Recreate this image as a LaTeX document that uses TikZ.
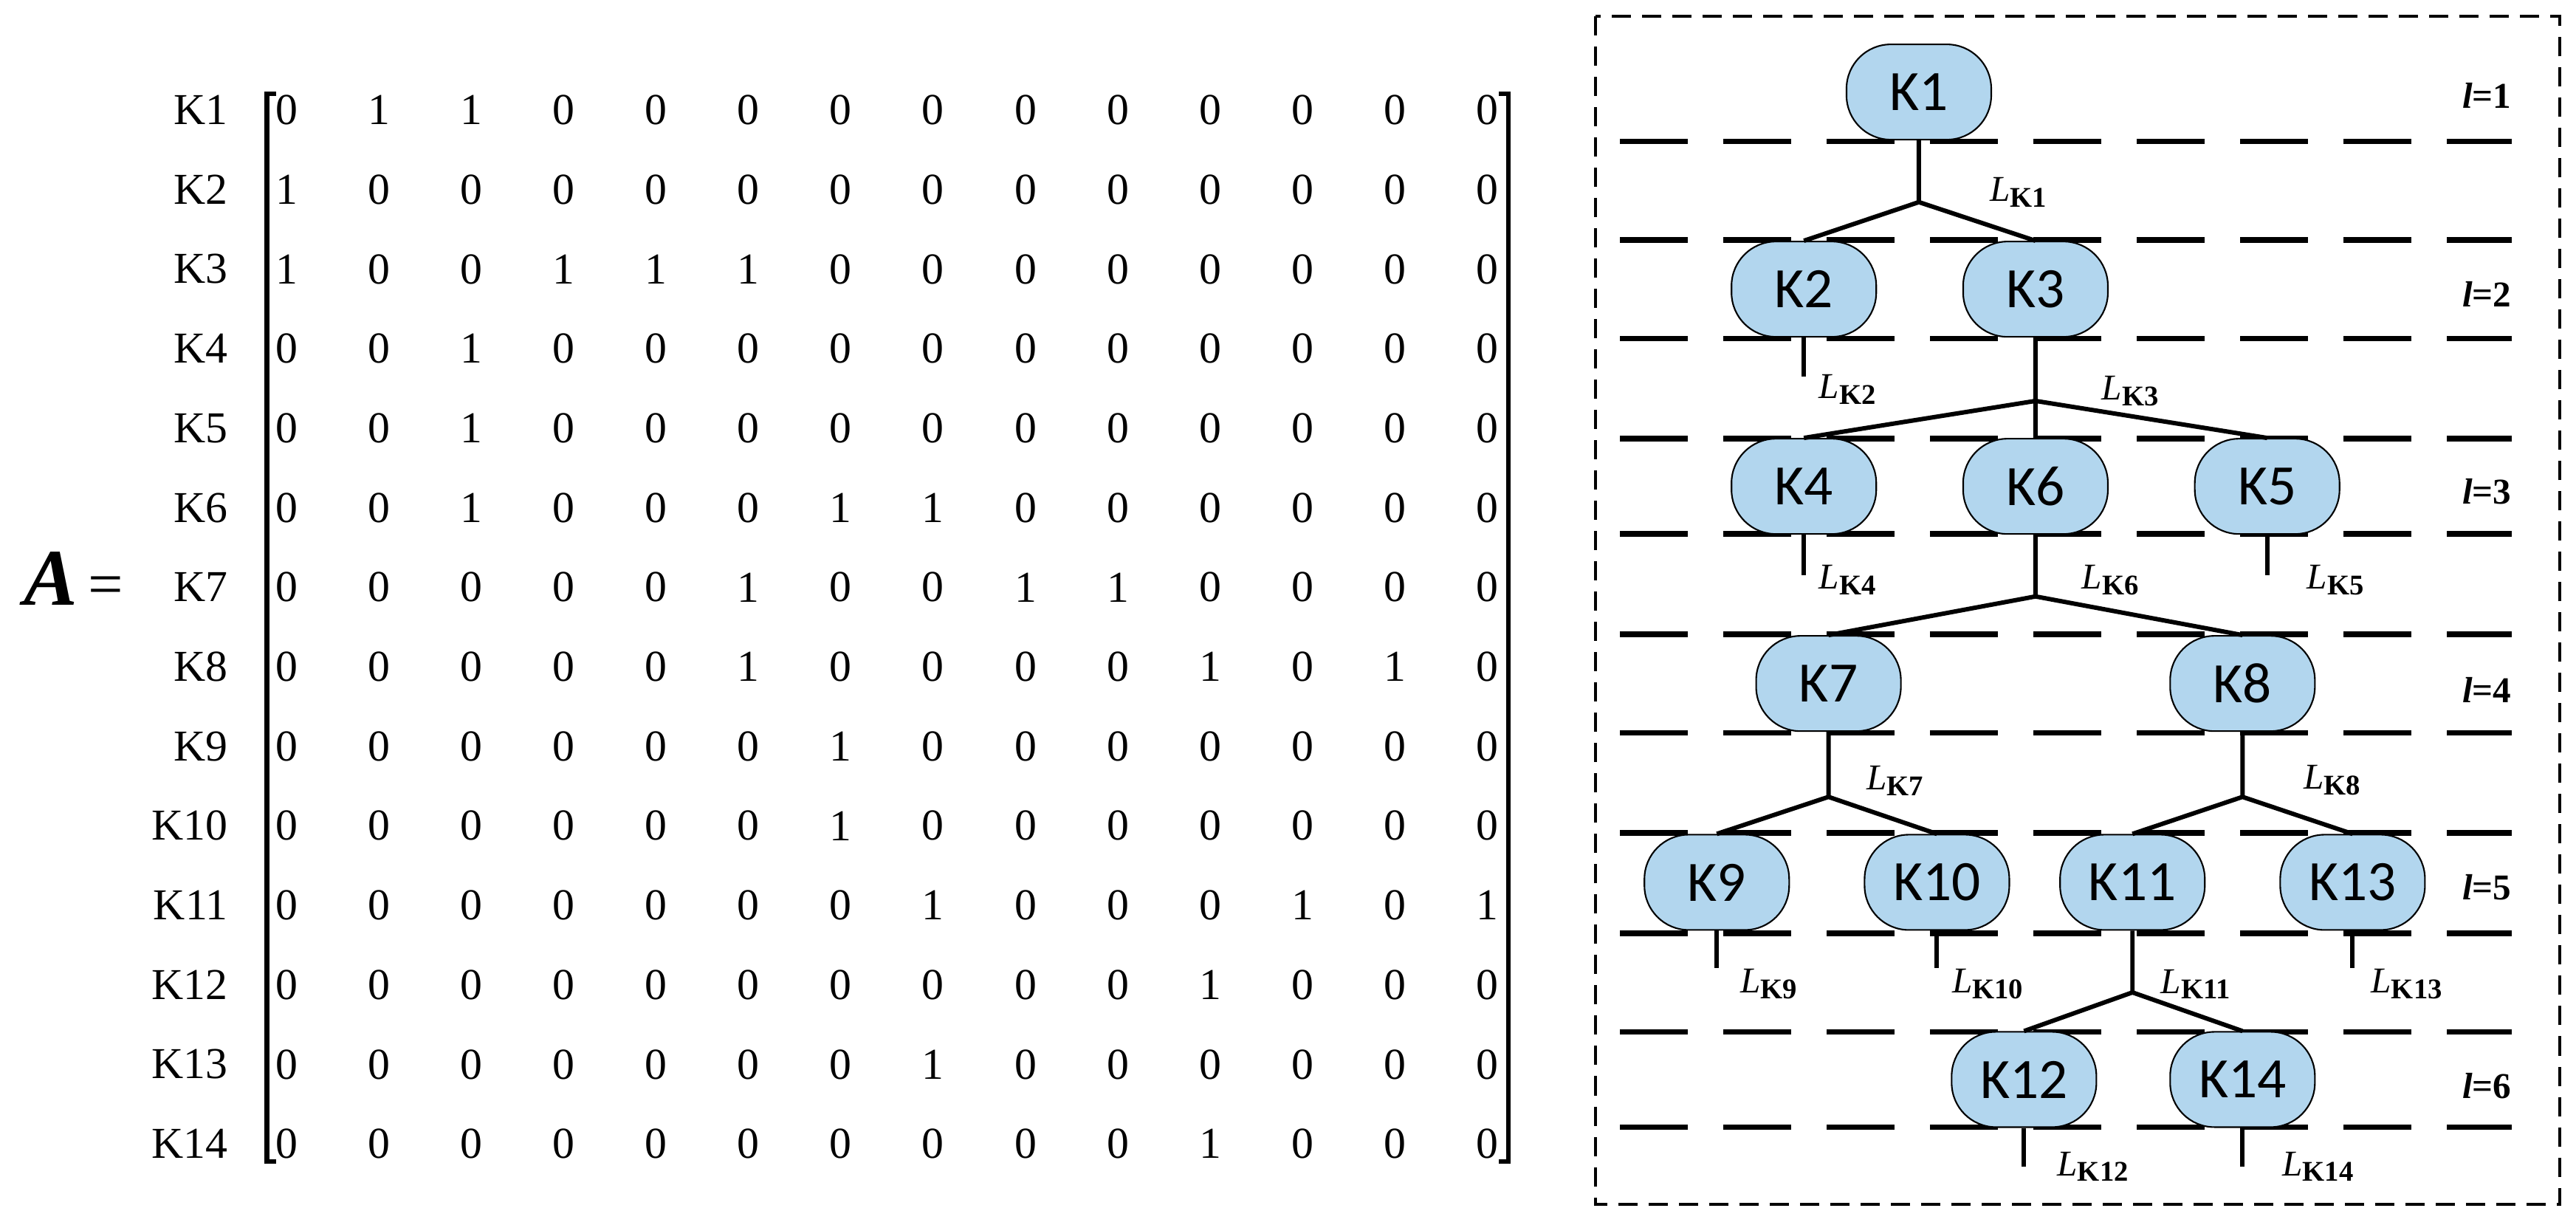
\documentclass[tikz,border=0pt]{standalone}
\usepackage{fontspec}
\setmainfont{Liberation Serif}
\newfontfamily\knodefont{Carlito}
\usetikzlibrary{positioning}

\definecolor{kblue}{RGB}{178,214,238}

\tikzset{
  knode/.style={rectangle,rounded corners=0.6cm,draw,fill=kblue,line width=0.6pt,
    minimum width=1.96cm,minimum height=1.29cm,inner sep=0pt,
    font=\knodefont\fontsize{22}{24}\selectfont},
  level line/.style={line width=2.2pt,dash pattern=on 0.92cm off 0.48cm},
  branch/.style={line width=1.7pt},
  lab/.style={anchor=west,inner sep=0pt,font=\fontsize{14}{16}\selectfont},
  lev/.style={anchor=east,inner sep=0pt,font=\bfseries\fontsize{14}{16}\selectfont},
  entry/.style={inner sep=0pt,font=\fontsize{17}{19}\selectfont}
}
\newcommand{\lk}[1]{\textit{L}\raisebox{-0.35ex}{\fontsize{11}{12}\selectfont\bfseries K#1}}

\begin{document}
\begin{tikzpicture}[x=0.02225cm,y=-0.02225cm]
  \useasboundingbox (0,0) rectangle (1568,745.2);

  %matrix%
  \node[inner sep=0pt] (A) at (45,352) {\fontsize{31}{33}\selectfont\textbf{\textit{A}}\fontsize{24}{26}\selectfont\,=};
  \foreach \row [count=\i] in {
    {0,1,1,0,0,0,0,0,0,0,0,0,0,0},
    {1,0,0,0,0,0,0,0,0,0,0,0,0,0},
    {1,0,0,1,1,1,0,0,0,0,0,0,0,0},
    {0,0,1,0,0,0,0,0,0,0,0,0,0,0},
    {0,0,1,0,0,0,0,0,0,0,0,0,0,0},
    {0,0,1,0,0,0,1,1,0,0,0,0,0,0},
    {0,0,0,0,0,1,0,0,1,1,0,0,0,0},
    {0,0,0,0,0,1,0,0,0,0,1,0,1,0},
    {0,0,0,0,0,0,1,0,0,0,0,0,0,0},
    {0,0,0,0,0,0,1,0,0,0,0,0,0,0},
    {0,0,0,0,0,0,0,1,0,0,0,1,0,1},
    {0,0,0,0,0,0,0,0,0,0,1,0,0,0},
    {0,0,0,0,0,0,0,1,0,0,0,0,0,0},
    {0,0,0,0,0,0,0,0,0,0,1,0,0,0}} {
    \node[entry,anchor=east] (r\i) at (139,{67+(\i-1)*48.4}) {K\i};
    \foreach \v [count=\j] in \row
      \node[entry] (m-\i-\j) at ({174.6+(\j-1)*56.2},{67+(\i-1)*48.4}) {\v};
  }
  \draw[line width=1.8pt] (168,57) -- (162.5,57) -- (162.5,707) -- (168,707);
  \draw[line width=1.8pt] (912.5,57) -- (918,57) -- (918,707) -- (912.5,707);

  %frame and levels%
  \draw[line width=1.2pt,dash pattern=on 0.26cm off 0.15cm] (971,10) rectangle (1558,733);
  \foreach \y in {86,146,206,267,325,386,446,507,568,628,686}
    \draw[level line] (986,\y) -- (1529,\y);
  \foreach \n/\y in {1/58,2/179,3/299,4/420,5/540,6/661}
    \node[lev] (l\n) at (1529,\y) {\textit{l}=\n};

  %nodes%
  \node[knode] (K1) at (1168,56) {K1};
  \node[knode] (K2) at (1098,176) {K2};
  \node[knode] (K3) at (1239,176) {K3};
  \node[knode] (K4) at (1098,296) {K4};
  \node[knode] (K6) at (1239,296) {K6};
  \node[knode] (K5) at (1380,296) {K5};
  \node[knode] (K7) at (1113,416) {K7};
  \node[knode] (K8) at (1365,416) {K8};
  \node[knode] (K9) at (1045,537) {K9};
  \node[knode] (K10) at (1179,537) {K10};
  \node[knode] (K11) at (1298,537) {K11};
  \node[knode] (K13) at (1432,537) {K13};
  \node[knode] (K12) at (1232,657) {K12};
  \node[knode] (K14) at (1365,657) {K14};

  %junctions and stubs%
  \coordinate (j1) at (1168,123);
  \coordinate (j3) at (1239,244);
  \coordinate (j6) at (1239,363);
  \coordinate (j7) at (1113,485);
  \coordinate (j8) at (1365,485);
  \coordinate (j11) at (1298,604);
  \coordinate (s2) at (1098,229);
  \coordinate (s4) at (1098,350);
  \coordinate (s5) at (1380,350);
  \coordinate (s9) at (1045,589);
  \coordinate (s10) at (1179,589);
  \coordinate (s13) at (1432,589);
  \coordinate (s12) at (1232,710);
  \coordinate (s14) at (1365,710);

  \draw[branch] (K1.south) -- (j1) (j1) -- (K2.north) (j1) -- (K3.north);
  \draw[branch] (K3.south) -- (j3) (j3) -- (K4.north) (j3) -- (K6.north) (j3) -- (K5.north);
  \draw[branch] (K6.south) -- (j6) (j6) -- (K7.north) (j6) -- (K8.north);
  \draw[branch] (K7.south) -- (j7) (j7) -- (K9.north) (j7) -- (K10.north);
  \draw[branch] (K8.south) -- (j8) (j8) -- (K11.north) (j8) -- (K13.north);
  \draw[branch] (K11.south) -- (j11) (j11) -- (K12.north) (j11) -- (K14.north);
  \foreach \k in {2,4,5,9,10,13,12,14}
    \draw[branch] (K\k.south) -- (s\k);

  %labels%
  \node[lab] (LK1) at (1211,117) {\lk{1}};
  \node[lab] (LK2) at (1107,237) {\lk{2}};
  \node[lab] (LK3) at (1279,238) {\lk{3}};
  \node[lab] (LK4) at (1107,353) {\lk{4}};
  \node[lab] (LK6) at (1267,353) {\lk{6}};
  \node[lab] (LK5) at (1404,353) {\lk{5}};
  \node[lab] (LK7) at (1136,475) {\lk{7}};
  \node[lab] (LK8) at (1402,475) {\lk{8}};
  \node[lab] (LK9) at (1059,599) {\lk{9}};
  \node[lab] (LK10) at (1188,599) {\lk{10}};
  \node[lab] (LK11) at (1315,599) {\lk{11}};
  \node[lab] (LK13) at (1443,599) {\lk{13}};
  \node[lab] (LK12) at (1252,710) {\lk{12}};
  \node[lab] (LK14) at (1389,710) {\lk{14}};
\end{tikzpicture}
\end{document}
